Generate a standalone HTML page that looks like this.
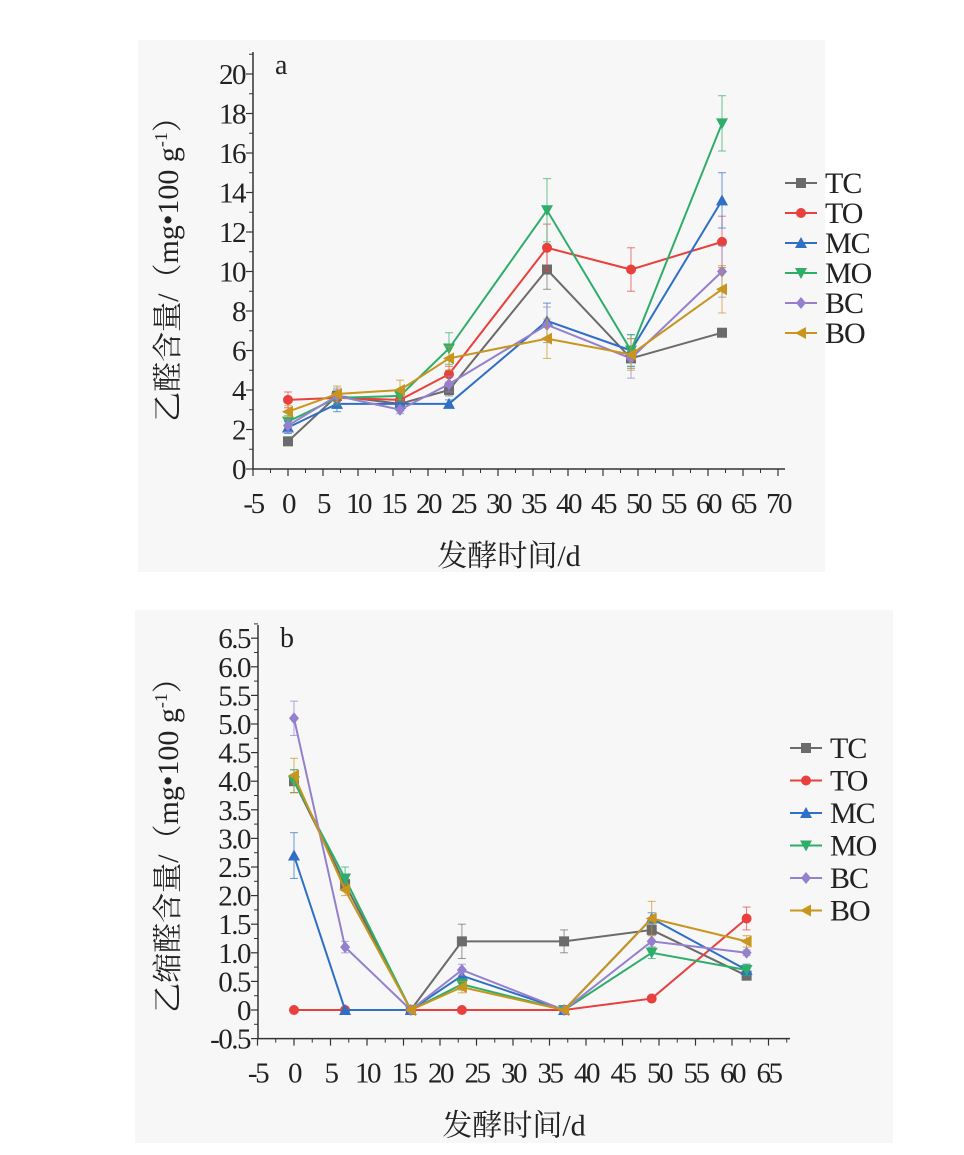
<!DOCTYPE html>
<html><head><meta charset="utf-8"><style>
html,body{margin:0;padding:0;background:#fff;}
svg{display:block;}
text{font-family:"Liberation Serif","Noto Serif CJK SC",serif;fill:#222;}
</style></head><body>
<svg id="s" width="964" height="1155" xmlns="http://www.w3.org/2000/svg">
<rect x="138" y="40" width="687" height="532" fill="#f7f7f7"/>
<rect x="135" y="610" width="758" height="533" fill="#f7f7f7"/>
</svg>
<script>
const S=document.getElementById('s');const NS='http://www.w3.org/2000/svg';
function el(t,a,txt){const e=document.createElementNS(NS,t);for(const k in a)e.setAttribute(k,a[k]);if(txt!==undefined)e.textContent=txt;S.appendChild(e);return e;}
const cols={TC:'#6b6b6b',TO:'#e8413d',MC:'#2f6fc6',MO:'#2fae6a',BC:'#9480cc',BO:'#c8951e'};
const mk={TC:'sq',TO:'ci',MC:'tu',MO:'td',BC:'di',BO:'tl'};
function marker(t,x,y,c){const r=5;
 if(t=='sq')el('rect',{x:x-r,y:y-r,width:2*r,height:2*r,fill:c});
 else if(t=='ci')el('circle',{cx:x,cy:y,r:r,fill:c});
 else if(t=='tu')el('polygon',{points:`${x},${y-6} ${x-6},${y+5} ${x+6},${y+5}`,fill:c});
 else if(t=='td')el('polygon',{points:`${x},${y+6} ${x-6},${y-5} ${x+6},${y-5}`,fill:c});
 else if(t=='di')el('polygon',{points:`${x},${y-6} ${x+5},${y} ${x},${y+6} ${x-5},${y}`,fill:c});
 else el('polygon',{points:`${x-6},${y} ${x+5},${y-6} ${x+5},${y+6}`,fill:c});}
const xs=[0,7,16,23,37,49,62];
function chart(o){
 const X=v=>o.x0+v*o.xs, Y=v=>o.y0-v*o.ys;
 const yb=Y(o.ymin);
 el('line',{x1:o.ax,y1:o.ytop,x2:o.ax,y2:yb,stroke:'#333','stroke-width':1.5});
 el('line',{x1:o.ax,y1:yb,x2:o.axe,y2:yb,stroke:'#333','stroke-width':1.5});
 for(let v=o.ymin;v<=o.ymax+1e-9;v+=o.ystep){const y=Y(v);el('line',{x1:o.ax-7,y1:y,x2:o.ax,y2:y,stroke:'#333','stroke-width':1.2});
  const ym=Y(v+o.ystep/2); if(v+o.ystep/2<=o.ymax+o.ystep/2) el('line',{x1:o.ax-4,y1:ym,x2:o.ax,y2:ym,stroke:'#333','stroke-width':1});
  el('text',{x:o.ax-8,y:y+10,'font-size':29,'text-anchor':'end','letter-spacing':-1.5},o.fmt(v));}
 for(let v=-5;v<=o.xmax;v+=5){const x=X(v);el('line',{x1:x,y1:yb,x2:x,y2:yb+7,stroke:'#333','stroke-width':1.2});
  if(v+2.5<=o.xmax+2.5){const xm=X(v+2.5);if(xm<=o.axe)el('line',{x1:xm,y1:yb,x2:xm,y2:yb+4,stroke:'#333','stroke-width':1});}
  el('text',{x:x,y:yb+44,'font-size':29,'text-anchor':'middle','letter-spacing':-2.5},v);}
 el('text',{x:o.ax+22,y:o.ytop+22,'font-size':28},o.lab);
 el('text',{x:(o.ax+o.axe)/2-10,y:yb+97,'font-size':30,'text-anchor':'middle'},'发酵时间/d');
 const yl=el('text',{x:0,y:0,'font-size':30,'text-anchor':'middle',transform:`translate(${o.ylx},${o.yly}) rotate(-90)`},'');
 yl.innerHTML=o.ytitle+'<tspan font-size="18" dy="-11">-1</tspan><tspan dy="11">）</tspan>';
 const keys=Object.keys(o.data);
 keys.forEach(k=>{const c=cols[k],d=o.data[k];
  d.forEach((v,i)=>{const e=o.err[k]?o.err[k][i]:0;if(e){const x=X(xs[i]);el('line',{x1:x,y1:Y(v-e),x2:x,y2:Y(v+e),stroke:c,'stroke-width':1,opacity:.7});el('line',{x1:x-4,y1:Y(v+e),x2:x+4,y2:Y(v+e),stroke:c,'stroke-width':1,opacity:.7});el('line',{x1:x-4,y1:Y(v-e),x2:x+4,y2:Y(v-e),stroke:c,'stroke-width':1,opacity:.7});}});
  el('polyline',{points:d.map((v,i)=>X(xs[i])+','+Y(v)).join(' '),fill:'none',stroke:c,'stroke-width':2});
  d.forEach((v,i)=>marker(mk[k],X(xs[i]),Y(v),c));});
 keys.forEach((k,i)=>{const y=o.ly+i*o.ld;el('line',{x1:o.lx,y1:y,x2:o.lx+32,y2:y,stroke:cols[k],'stroke-width':2});marker(mk[k],o.lx+16,y,cols[k]);
  el('text',{x:o.lx+40,y:y+10,'font-size':30,'letter-spacing':-1},k);});
}
chart({x0:288,xs:7,y0:469,ys:19.75,ax:253,axe:785,ytop:52,ymin:0,ymax:20,ystep:2,xmax:70,fmt:v=>v,lab:'a',
 ytitle:'乙醛含量/（mg•100 g',ylx:178,yly:262,lx:785,ly:183,ld:30,
 data:{TC:[1.4,3.7,3.3,4.0,10.1,5.6,6.9],TO:[3.5,3.6,3.5,4.8,11.2,10.1,11.5],MC:[2.1,3.3,3.3,3.3,7.5,6.0,13.6],MO:[2.4,3.6,3.7,6.1,13.1,6.0,17.5],BC:[2.2,3.7,3.0,4.3,7.3,5.6,10.0],BO:[2.9,3.8,4.0,5.6,6.6,5.8,9.1]},
 err:{TC:[0.2,0.3,0.2,0.3,1,0.5,0.2],TO:[0.4,0.3,0.3,0.4,1.2,1.1,1.3],MC:[0.3,0.4,0.2,0.2,0.9,0.8,1.4],MO:[0.3,0.4,0.3,0.8,1.6,0.8,1.4],BC:[0.3,0.4,0.2,0.4,0.9,1,1.3],BO:[0.3,0.4,0.5,0.6,1,0.8,1.2]}});
chart({x0:294,xs:7.3,y0:1010,ys:57.2,ax:258,axe:790,ytop:625,ymin:-0.5,ymax:6.5,ystep:0.5,xmax:65,fmt:v=>Math.abs(v)<1e-9?'0':v.toFixed(1),lab:'b',
 ytitle:'乙缩醛含量/（mg•100 g',ylx:178,yly:838,lx:790,ly:748,ld:32.5,
 data:{TC:[4.0,2.2,0,1.2,1.2,1.4,0.6],TO:[0,0,0,0,0,0.2,1.6],MC:[2.7,0,0,0.6,0,1.6,0.7],MO:[4.0,2.3,0,0.45,0,1.0,0.7],BC:[5.1,1.1,0,0.7,0,1.2,1.0],BO:[4.1,2.1,0,0.4,0,1.6,1.2]},
 err:{TC:[0.2,0.1,0,0.3,0.2,0.2,0.05],TO:[0,0,0,0,0,0,0.2],MC:[0.4,0,0,0.1,0,0.1,0.1],MO:[0.2,0.2,0,0.1,0,0.1,0.1],BC:[0.3,0.1,0,0.1,0,0.1,0.05],BO:[0.3,0.1,0,0.1,0,0.3,0.1]}});
</script>
</body></html>
